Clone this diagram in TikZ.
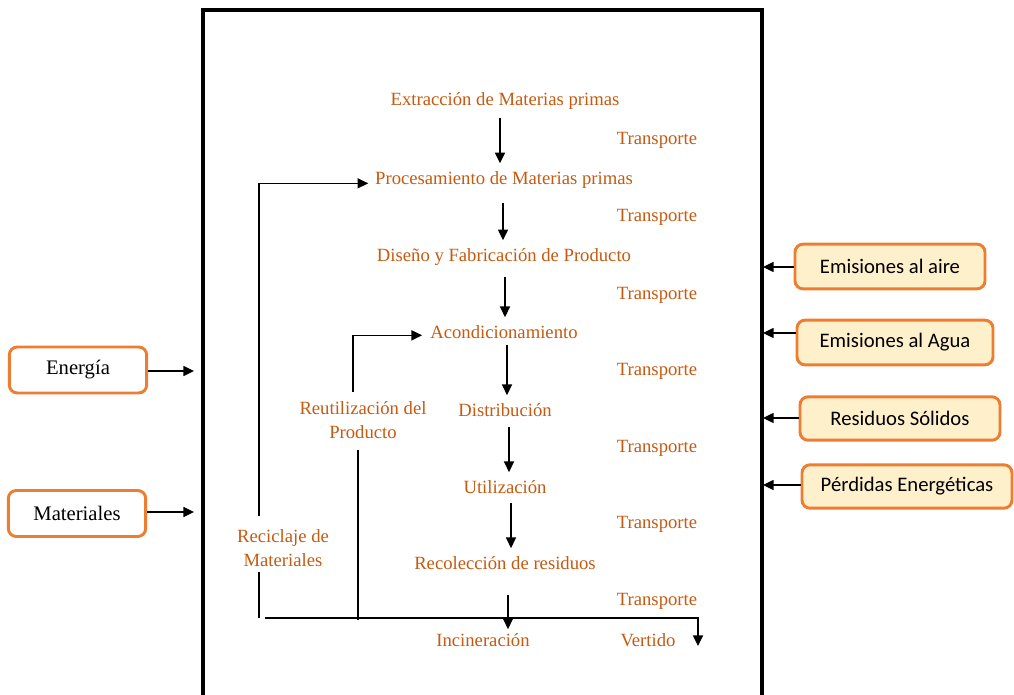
\documentclass[tikz,border=0pt]{standalone}
\usepackage{fontspec}
\setmainfont{Liberation Serif}
\newfontfamily\boxfont{Carlito}
\usetikzlibrary{arrows.meta}
\definecolor{stagetext}{HTML}{C55A11}
\definecolor{boxline}{HTML}{ED7D31}
\definecolor{boxfill}{HTML}{FFF0CC}
\begin{document}
\begin{tikzpicture}[x=0.75pt,y=-0.75pt,
  stage/.style={text=stagetext,font=\rmfamily\fontsize{14}{17.5}\selectfont,inner sep=0pt,align=center},
  inbox/.style={draw=boxline,line width=2.2pt,rounded corners=6pt,fill=white,
    font=\rmfamily\fontsize{15.5}{18}\selectfont,minimum width=103pt,minimum height=34.5pt,inner sep=0pt},
  outbox/.style={draw=boxline,line width=2.2pt,rounded corners=6pt,fill=boxfill,
    font=\boxfont\fontsize{15.5}{18}\selectfont,minimum height=33.5pt,inner sep=0pt},
  arr/.style={line width=1.1pt,-{Triangle[length=8pt,width=7.5pt]}},
  link/.style={line width=1.1pt}]
\useasboundingbox (0,0) rectangle (1014,695);
\clip (0,0) rectangle (1014,695);

% system boundary
\draw[line width=2.3pt] (203,10) rectangle (762,740);

% life-cycle stages
\node[stage] (extr) at (505,101) {Extracción de Materias primas};
\node[stage] (proc) at (504,180) {Procesamiento de Materias primas};
\node[stage] (dise) at (504,257) {Diseño y Fabricación de Producto};
\node[stage] (acon) at (504,332) {Acondicionamiento};
\node[stage] (dist) at (505,410) {Distribución};
\node[stage] (util) at (505,487) {Utilización};
\node[stage] (reco) at (505,563) {Recolección de residuos};
\node[stage] (inci) at (483,640) {Incineración};
\node[stage] (vert) at (648,640) {Vertido};
\node[stage] (reut) at (363,420) {Reutilización del\\Producto};
\node[stage] (reci) at (283,548) {Reciclaje de\\Materiales};

% transport labels
\foreach \i/\y in {1/140,2/217,3/295,4/371,5/448,6/524,7/601}
  \node[stage] (tr\i) at (657,\y) {Transporte};

% arrows between stages
\coordinate (a1) at (500,118);
\coordinate (a2) at (503,203);
\coordinate (a3) at (505,277);
\coordinate (a4) at (507,345);
\coordinate (a5) at (509,427);
\coordinate (a6) at (511,503);
\coordinate (a7) at (508,595);
\draw[arr] (a1) -- ([yshift=6pt]a1 |- proc.north);
\draw[arr] (a2) -- ([yshift=6pt]a2 |- dise.north);
\draw[arr] (a3) -- ([yshift=6pt]a3 |- acon.north);
\draw[arr] (a4) -- ([yshift=6pt]a4 |- dist.north);
\draw[arr] (a5) -- ([yshift=6pt]a5 |- util.north);
\draw[arr] (a6) -- ([yshift=6pt]a6 |- reco.north);
\draw[arr] (a7) -- ([yshift=3pt]a7 |- inci.north);

% recycling loop
\coordinate (rc) at (259,516);
\draw[arr] (rc) |- ([xshift=-5pt,yshift=-2.5pt]proc.west);
\coordinate (rcb) at (259,572);
\draw[link] (rcb) -- (259,618);

% reuse loop
\coordinate (ru) at (353,392);
\draw[arr] (ru) |- ([xshift=-6pt,yshift=-2.5pt]acon.west);
\coordinate (rub) at (358,450);
\draw[link] (rub) -- (358,620);

% route to landfill
\coordinate (vt) at (698,646);
\draw[arr] (265,618) -| (vt);

% inputs
\node[inbox] (ener) at (78,370) {Energía};
\node[inbox] (mate) at (77,513.5) {Materiales};
\coordinate (ein) at (194,371);
\coordinate (min) at (194,512);
\draw[arr] (ener.east |- ein) -- (ein);
\draw[arr] (mate.east |- min) -- (min);

% outputs
\node[outbox,minimum width=142.5pt] (aire) at (890,266.5) {Emisiones al aire};
\node[outbox,minimum width=147pt] (agua) at (895,342.5) {Emisiones al Agua};
\node[outbox,minimum width=150pt,minimum height=32.5pt] (soli) at (900,418.5) {Residuos Sólidos};
\node[outbox,minimum width=157.5pt,minimum height=32.5pt] (perd) at (907,486.5) {Pérdidas Energéticas};
\coordinate (o1) at (763,267);
\coordinate (o2) at (763,333);
\coordinate (o3) at (763,418);
\coordinate (o4) at (763,485);
\draw[arr] (aire.west |- o1) -- (o1);
\draw[arr] (agua.west |- o2) -- (o2);
\draw[arr] (soli.west |- o3) -- (o3);
\draw[arr] (perd.west |- o4) -- (o4);
\end{tikzpicture}
\end{document}
